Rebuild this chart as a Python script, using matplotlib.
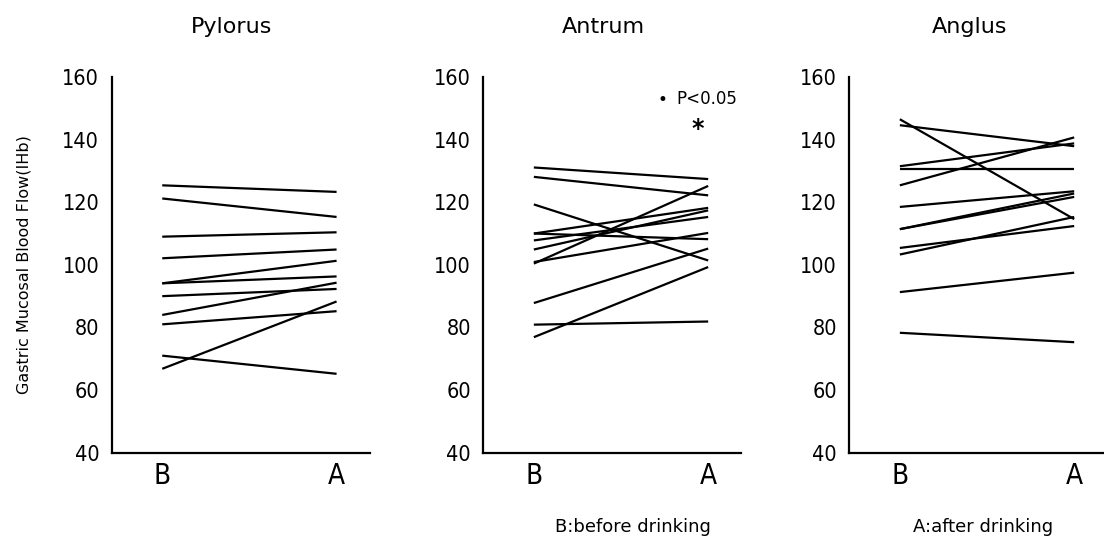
import matplotlib
matplotlib.use("Agg")
import matplotlib.pyplot as plt
from matplotlib import font_manager as fm

# ---- data ----
categories = ["B", "A"]
panel_titles = ["Pylorus", "Antrum", "Anglus"]
yticks = [40, 60, 80, 100, 120, 140, 160]

pylorus_before = [125.4, 121.2, 109.0, 102.1, 94.1, 94.1, 90.0, 84.0, 81.0, 71.0, 66.8]
pylorus_after = [123.3, 115.3, 110.4, 104.9, 101.3, 96.3, 92.3, 94.3, 85.2, 65.2, 88.3]

antrum_before = [131.1, 128.1, 119.3, 100.4, 87.8, 76.9, 80.9, 110.0, 110.0, 107.8, 104.9, 100.9]
antrum_after = [127.4, 122.2, 101.4, 125.2, 105.2, 99.3, 81.9, 118.2, 108.2, 115.3, 117.4, 110.2]

anglus_before = [146.5, 144.6, 131.5, 125.4, 130.6, 118.5, 111.4, 111.4, 105.4, 103.3, 91.3, 78.3]
anglus_after = [114.6, 137.9, 138.8, 140.7, 130.6, 123.5, 122.8, 121.7, 112.4, 115.3, 97.5, 75.3]

before = [pylorus_before, antrum_before, anglus_before]
after = [pylorus_after, antrum_after, anglus_after]

# ---- find a condensed font if one exists ----
def pick_condensed():
    prefs = []
    for f in fm.fontManager.ttflist:
        n = f.name.lower()
        fn = f.fname.lower()
        score = None
        if "liberation sans narrow" in n and f.style == "normal" and f.weight in (400, "normal", "regular"):
            score = 0
        elif ("condensed" in n or "condensed" in fn or "narrow" in n) and f.style == "normal" \
                and "bold" not in fn and "oblique" not in fn and "italic" not in fn:
            score = 1
        elif str(f.stretch) in ("condensed", "semi-condensed") and f.style == "normal" and "bold" not in fn:
            score = 2
        if score is not None:
            prefs.append((score, f.fname))
    if prefs:
        prefs.sort()
        return prefs[0][1]
    return None

cond_file = pick_condensed()

def narrow_prop(size):
    if cond_file:
        return fm.FontProperties(fname=cond_file, size=size)
    return fm.FontProperties(family="DejaVu Sans", size=size * 0.85)

# ---- layout ----
W, H = 1104, 540
fig = plt.figure(figsize=(W / 100, H / 100), dpi=100)
fig.patch.set_facecolor("white")

lefts = [111.7, 483.3, 849.3]
ax_w = 258
ax_bottom = 87.3
ax_h = 375.7

for i, left in enumerate(lefts):
    ax = fig.add_axes([left / W, ax_bottom / H, ax_w / W, ax_h / H])
    for b, a in zip(before[i], after[i]):
        ax.plot([0, 1], [b, a], color="black", lw=1.6, solid_capstyle="butt")
    ax.set_xlim(-0.29, 1.19)
    ax.set_ylim(40, 160)
    ax.set_xticks([0, 1])
    ax.set_xticklabels(categories)
    for lab in ax.get_xticklabels():
        lab.set_fontproperties(narrow_prop(20))
    ax.set_yticks(yticks)
    ax.set_yticklabels([str(t) for t in yticks])
    for lab in ax.get_yticklabels():
        lab.set_fontproperties(narrow_prop(15.5))
    ax.tick_params(axis="both", length=0)
    ax.tick_params(axis="y", pad=9)
    ax.tick_params(axis="x", pad=7)
    for s in ["top", "right"]:
        ax.spines[s].set_visible(False)
    for s in ["left", "bottom"]:
        ax.spines[s].set_linewidth(1.6)
    fig.text((left + 120) / W, 1 - 27 / H, panel_titles[i], fontsize=16,
             ha="center", va="center", family="DejaVu Sans")

fig.text(24 / W, 1 - 265 / H, "Gastric Mucosal Blood Flow(IHb)", rotation=90,
         fontsize=11.5, ha="center", va="center")

fig.text(662 / W, 1 - 100 / H, "\u2022", fontsize=12, ha="center", va="center")
fig.text(707 / W, 1 - 99 / H, "P<0.05", fontsize=12, ha="center", va="center")
fig.text(698 / W, 1 - 129 / H, "*", fontsize=17, ha="center", va="center", weight="bold")

fig.text(633 / W, 1 - 527 / H, "B:before drinking", fontsize=13, ha="center", va="center")
fig.text(983 / W, 1 - 527 / H, "A:after drinking", fontsize=13, ha="center", va="center")

fig.savefig("out.png", dpi=100, facecolor="white")
